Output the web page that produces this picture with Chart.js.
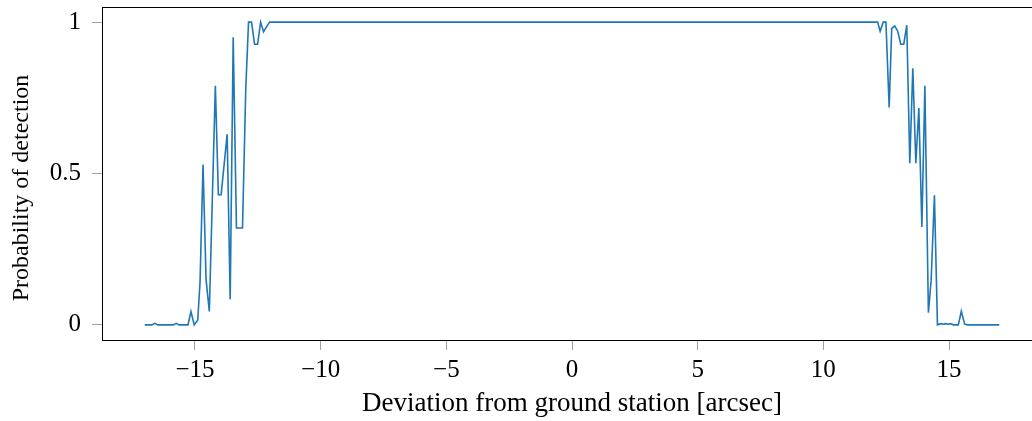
<!DOCTYPE html>
<html>
<head>
<meta charset="utf-8">
<script src="https://cdn.jsdelivr.net/npm/chart.js@4"></script>
<style>
  html, body { margin: 0; padding: 0; background: #fff; overflow: hidden; }
  #wrap { width: 1050px; height: 421px; }
</style>
</head>
<body>
<div id="wrap"><canvas id="c" width="1050" height="421"></canvas></div>
<script>
// Deviation from ground station [arcsec]
const deviation = [
  -17.0, -16.72, -16.60, -16.48, -15.87, -15.75, -15.63, -15.28, -15.16, -15.03,
  -14.89, -14.80, -14.68, -14.56, -14.43, -14.19, -14.07, -13.96, -13.72, -13.60,
  -13.48, -13.35, -13.23, -13.11, -12.98, -12.87, -12.75, -12.63, -12.51, -12.39,
  -12.27, -12.15, -12.03,
  12.16, 12.26, 12.38, 12.49, 12.62, 12.72, 12.84, 12.96, 13.08, 13.20,
  13.32, 13.44, 13.56, 13.68, 13.80, 13.92, 14.04, 14.18, 14.29, 14.42,
  14.54, 14.67, 14.78, 14.86, 14.97, 15.05, 15.18, 15.37, 15.49, 15.62,
  15.73, 17.0
];

// Probability of detection at each deviation
const probability = [
  0, 0, 0.005, 0, 0, 0.005, 0, 0, 0.044, 0,
  0.016, 0.14, 0.53, 0.15, 0.044, 0.79, 0.43, 0.43, 0.63, 0.085,
  0.95, 0.32, 0.32, 0.32, 0.78, 1.0, 1.0, 0.927, 0.927, 1.0,
  0.968, 0.985, 1.0,
  1.0, 0.97, 1.0, 1.0, 0.718, 0.979, 0.987, 0.97, 0.927, 0.927,
  0.99, 0.534, 0.848, 0.534, 0.716, 0.323, 0.79, 0.04, 0.148, 0.428,
  0, 0.004, 0.002, 0.004, 0.002, 0.004, 0, 0, 0.045, 0.003,
  0, 0
];

const xTickValues = [-15, -10, -5, 0, 5, 10, 15];
const xTickLabels = ['\u221215', '\u221210', '\u22125', '0', '5', '10', '15'];
const yTickValues = [0, 0.5, 1];
const yTickLabels = ['0', '0.5', '1'];

const xAxisTitle = 'Deviation from ground station [arcsec]';
const yAxisTitle = 'Probability of detection';

const points = deviation.map((x, i) => ({ x: x, y: probability[i] }));

const serif = "'Liberation Serif', 'DejaVu Serif', serif";

// Box around the plotting area, plus the rotated y-axis label
const frame = {
  id: 'frame',
  afterDraw(chart) {
    const a = chart.chartArea;
    const ctx = chart.ctx;
    ctx.save();
    ctx.strokeStyle = '#000';
    ctx.lineWidth = 1;
    ctx.strokeRect(Math.round(a.left) + 0.5, Math.round(a.top) + 0.5,
                   Math.round(a.right - a.left), Math.round(a.bottom - a.top));
    ctx.restore();

    ctx.save();
    ctx.fillStyle = '#000';
    ctx.font = '24px ' + serif;
    ctx.textAlign = 'center';
    ctx.textBaseline = 'middle';
    ctx.translate(22, 188);
    ctx.rotate(-Math.PI / 2);
    ctx.fillText(yAxisTitle, 0, 0);
    ctx.restore();
  }
};

function noEdgePadding(s) {
  s.paddingTop = 0; s.paddingBottom = 0; s.paddingLeft = 0; s.paddingRight = 0;
}

new Chart(document.getElementById('c'), {
  type: 'line',
  data: {
    datasets: [{
      data: points,
      borderColor: '#1f77b4',
      borderWidth: 1.6,
      pointRadius: 0,
      tension: 0,
      fill: false
    }]
  },
  options: {
    responsive: false,
    animation: false,
    devicePixelRatio: 1,
    layout: { padding: { top: 7, right: 8, left: 0, bottom: 0 } },
    plugins: { legend: { display: false }, tooltip: { enabled: false } },
    scales: {
      x: {
        type: 'linear',
        min: -18.7,
        max: 18.7,
        afterFit(s) { s.height = 81; noEdgePadding(s); },
        afterBuildTicks(s) { s.ticks = xTickValues.map(v => ({ value: v })); },
        ticks: {
          color: '#000',
          font: { family: serif, size: 25 },
          padding: 5,
          maxRotation: 0,
          autoSkip: false,
          callback: (v) => xTickLabels[xTickValues.indexOf(v)]
        },
        grid: { drawOnChartArea: false, drawTicks: true, tickLength: 10, color: '#a0a0a0' },
        border: { display: true, color: '#000', width: 1 },
        title: {
          display: true,
          text: xAxisTitle,
          color: '#000',
          font: { family: serif, size: 27 },
          padding: { top: 0, bottom: 1 }
        }
      },
      y: {
        type: 'linear',
        min: -0.05,
        max: 1.05,
        afterFit(s) { s.width = 102; noEdgePadding(s); },
        afterBuildTicks(s) { s.ticks = yTickValues.map(v => ({ value: v })); },
        ticks: {
          color: '#000',
          font: { family: serif, size: 25 },
          padding: 11,
          autoSkip: false,
          callback: (v) => yTickLabels[yTickValues.indexOf(v)]
        },
        grid: { drawOnChartArea: false, drawTicks: true, tickLength: 10, color: '#a0a0a0' },
        border: { display: true, color: '#000', width: 1 },
        title: { display: false }
      }
    }
  },
  plugins: [frame]
});
</script>
</body>
</html>
